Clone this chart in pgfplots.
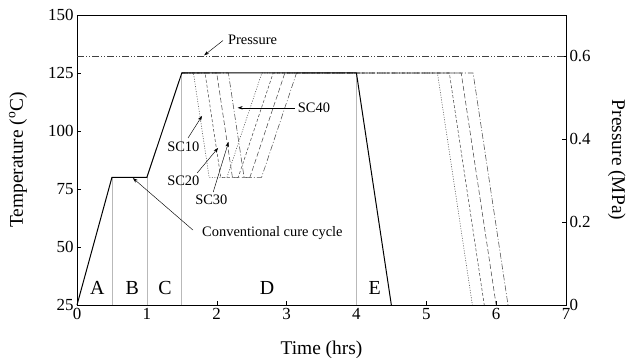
\documentclass[border=0pt]{standalone}
\usepackage{fontspec}
\setmainfont{Liberation Serif}
\usepackage{pgfplots}
\pgfplotsset{compat=1.18}
\usetikzlibrary{arrows.meta}
\tikzset{
  sc/.style={line width=0.55pt, color=black!70},
  ann/.style={font=\fontsize{14.5}{15}\selectfont},
  arr/.style={line width=0.45pt, -{Stealth[length=5bp,width=3.5bp]}},
  lett/.style={font=\fontsize{20}{20}\selectfont},
}
\begin{document}
\begin{tikzpicture}[x=1bp,y=1bp]
\pgfplotsset{
  commonax/.style={scale only axis, width=489bp, height=290bp, xmin=0, xmax=7,
    tick align=inside, major tick length=4bp,
    tick style={black, line width=0.4pt},
    /pgf/number format/assume math mode=true,
    ticklabel style={font=\fontsize{17}{17}\selectfont},
    label style={font=\fontsize{19.5}{20}\selectfont},
    axis line style={black, line width=0.6pt}},
}
\begin{axis}[commonax, name=ax, ymin=25, ymax=150,
  xtick={0,1,...,7}, ytick={25,50,75,100,125,150},
  xtick pos=bottom, ytick pos=left,
  xlabel={Time (hrs)}, ylabel={Temperature (\textsuperscript{o}C)},
  xlabel style={at={(axis description cs:0.5,-0.155)}, anchor=center},
  ylabel style={at={(axis description cs:-0.1207,0.5)}, anchor=center},
  clip=false,
]
% phase boundaries
\addplot[gray!55, line width=0.6pt] coordinates {(0.5,25) (0.5,80)};
\addplot[gray!55, line width=0.6pt] coordinates {(1,25) (1,80)};
\addplot[gray!55, line width=0.6pt] coordinates {(1.5,25) (1.5,125)};
\addplot[gray!55, line width=0.6pt] coordinates {(4,25) (4,125)};
% step cure cycles
\addplot[sc, dash pattern=on 1bp off 1.5bp] coordinates {(1.5,125) (1.667,125) (1.892,80) (2.146,80) (2.646,125) (5.16,125) (5.66,25)};
\addplot[sc, dash pattern=on 3bp off 2bp] coordinates {(1.5,125) (1.833,125) (2.058,80) (2.308,80) (2.808,125) (5.33,125) (5.83,25)};
\addplot[sc, dash pattern=on 5bp off 2.5bp] coordinates {(1.5,125) (2.0,125) (2.225,80) (2.475,80) (2.975,125) (5.50,125) (6.00,25)};
\addplot[sc, dash pattern=on 6bp off 2bp on 1bp off 2bp] coordinates {(1.5,125) (2.167,125) (2.392,80) (2.642,80) (3.142,125) (5.67,125) (6.17,25)};
% conventional cure cycle
\addplot[black, line width=1pt] coordinates {(0,25) (0.5,80) (1,80) (1.5,125) (4,125) (4.5,25)};
% phase letters
\node[lett] at (axis cs:0.29,32.5) {A};
\node[lett] at (axis cs:0.79,32.5) {B};
\node[lett] at (axis cs:1.26,32.5) {C};
\node[lett] at (axis cs:2.72,32.5) {D};
\node[lett] at (axis cs:4.26,32.5) {E};
% annotations
\node[ann, anchor=west, inner sep=0pt] at (axis cs:2.16,139.2) {Pressure};
\draw[arr] (axis cs:2.09,139.0) -- (axis cs:1.82,132.6);
\node[ann, anchor=west, inner sep=0pt] at (axis cs:3.16,109.9) {SC40};
\draw[arr] (axis cs:3.12,110) -- (axis cs:2.30,110);
\node[ann, anchor=west, inner sep=0pt] at (axis cs:1.29,93.1) {SC10};
\draw[arr] (axis cs:1.59,97) -- (axis cs:1.79,106.5);
\node[ann, anchor=west, inner sep=0pt] at (axis cs:1.29,78.4) {SC20};
\draw[arr] (axis cs:1.72,81.9) -- (axis cs:2.02,92.7);
\node[ann, anchor=west, inner sep=0pt] at (axis cs:1.69,70.3) {SC30};
\draw[arr] (axis cs:1.95,73.7) -- (axis cs:2.17,95.3);
\node[ann, anchor=west, inner sep=0pt] at (axis cs:1.79,56) {Conventional cure cycle};
\draw[arr] (axis cs:1.66,57.3) -- (axis cs:0.80,79.7);
\end{axis}
\begin{axis}[commonax, ymin=0, ymax=0.7,
  axis y line*=right, axis x line=none,
  ytick={0,0.2,0.4,0.6}, yticklabels={0,0.2,0.4,0.6},
  ylabel={Pressure (MPa)},
  ylabel style={at={(axis description cs:1.104,0.5)}, anchor=center, rotate=-180},
]
\addplot[black!75, line width=0.55pt, dash pattern=on 7bp off 2bp on 1bp off 2bp on 1bp off 2bp] coordinates {(0,0.6) (7,0.6)};
\end{axis}
\pgfresetboundingbox
\path (ax.south west) ++(-77bp,-53bp) rectangle ++(627bp,358bp);
\end{tikzpicture}
\end{document}
